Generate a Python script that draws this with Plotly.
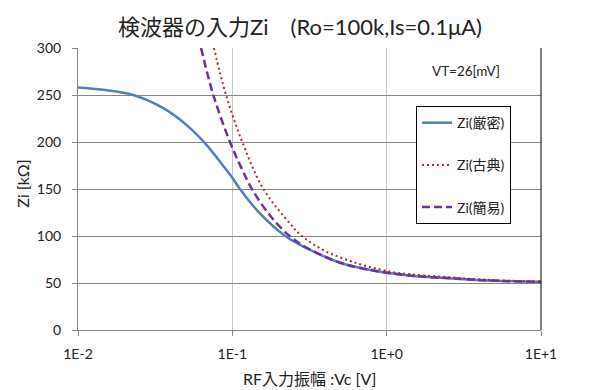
import plotly.graph_objects as go

# ---- data ----
x_strict = [0.01, 0.0146, 0.0228, 0.0357, 0.0506, 0.068, 0.0832, 0.099, 0.112,
            0.151, 0.22, 0.303, 0.5, 0.7, 1.0, 1.5, 2.57, 5.0, 10.0]
zi_strict = [258, 255.5, 250, 236, 218, 197, 179, 163, 150,
             124, 100, 87, 71.5, 65.5, 61, 57.5, 55, 52.5, 51.2]

x_classic = [0.076, 0.091, 0.116, 0.159, 0.237, 0.282, 0.389, 0.64, 1.0,
             1.22, 2.57, 5.0, 10.0]
zi_classic = [300, 250, 200, 150, 113, 100, 85, 71, 63,
              60.5, 56, 53, 51.5]

x_simple = [0.0627, 0.0753, 0.0965, 0.114, 0.134, 0.175, 0.235, 0.303, 0.5,
            0.7, 1.0, 1.5, 2.57, 5.0, 10.0]
zi_simple = [300, 250, 200, 173, 150, 122, 100, 87.5, 71.5,
             65.5, 61, 57.5, 55, 52.5, 51.2]

x_tickvals = [0.01, 0.1, 1, 10]
x_ticktext = ["1E-2", "1E-1", "1E+0", "1E+1"]
y_tickvals = [0, 50, 100, 150, 200, 250, 300]

names = ["Zi(厳密)", "Zi(古典)", "Zi(簡易)"]

FONT = "Lato, 'Noto Sans CJK JP', sans-serif"
TXT = "#222222"

fig = go.Figure()
fig.add_trace(go.Scatter(x=x_strict, y=zi_strict, mode="lines", name=names[0],
                         legendgroup="a", line=dict(color="#4F81BD", width=2.5, shape="spline")))
fig.add_trace(go.Scatter(x=x_classic, y=zi_classic, mode="lines", name=names[1],
                         legendgroup="b", line=dict(color="#A5312F", width=2, dash="2px,3px", shape="spline")))
fig.add_trace(go.Scatter(x=x_simple, y=zi_simple, mode="lines", name=names[2],
                         legendgroup="c", line=dict(color="#7030A0", width=2.5, dash="8px,4px", shape="spline")))

fig.update_layout(
    width=600, height=390,
    margin=dict(l=78, r=59, t=48, b=60, autoexpand=False),
    paper_bgcolor="white", plot_bgcolor="white",
    font=dict(family=FONT, size=14, color=TXT),
    title=dict(text="検波器の入力Zi　(Ro=100k,Is=0.1μA)", x=0.5, xref="container",
               xanchor="center", y=1 - 27.5 / 390, yanchor="middle",
               font=dict(family=FONT, size=22, color=TXT)),
    showlegend=True,
    legend=dict(x=0.730, y=0.794, xanchor="left", yanchor="top",
                bordercolor="black", borderwidth=1, bgcolor="white",
                font=dict(family=FONT, size=14, color=TXT),
                tracegroupgap=21, itemwidth=30),
    xaxis=dict(type="log", range=[-2, 1], tickvals=x_tickvals, ticktext=x_ticktext,
               showgrid=True, gridcolor="#C4C4C4", gridwidth=1,
               showline=True, linecolor="#868686", linewidth=1,
               ticks="outside", ticklen=5, tickcolor="#868686",
               ticklabelstandoff=6, zeroline=False,
               tickfont=dict(family=FONT, size=14, color=TXT)),
    yaxis=dict(range=[0, 300], tickvals=y_tickvals,
               showgrid=True, gridcolor="#868686", gridwidth=1,
               showline=True, linecolor="#868686", linewidth=1,
               ticks="outside", ticklen=5, tickcolor="#868686",
               ticklabelstandoff=8, zeroline=False,
               tickfont=dict(family=FONT, size=14, color=TXT)),
)

fig.add_shape(type="line", xref="paper", yref="paper", x0=1, x1=1, y0=0, y1=1,
              line=dict(color="black", width=1))

fig.add_annotation(text="Zi [kΩ]", xref="paper", yref="paper", x=-0.1193, y=0.518,
                   textangle=-90, showarrow=False, xanchor="center", yanchor="middle",
                   font=dict(family=FONT, size=16, color=TXT))
fig.add_annotation(text="RF入力振幅 :Vc [V]", xref="paper", yref="paper", x=0.5, y=-0.1730,
                   showarrow=False, xanchor="center", yanchor="middle",
                   font=dict(family=FONT, size=16, color=TXT))
fig.add_annotation(text="VT=26[mV]", xref="paper", yref="paper", x=0.838, y=0.9195,
                   showarrow=False, xanchor="center", yanchor="middle",
                   font=dict(family=FONT, size=13.5, color=TXT))

fig.write_html("out.html", config={"displayModeBar": False},
               post_script="document.body.style.margin='0px';")
